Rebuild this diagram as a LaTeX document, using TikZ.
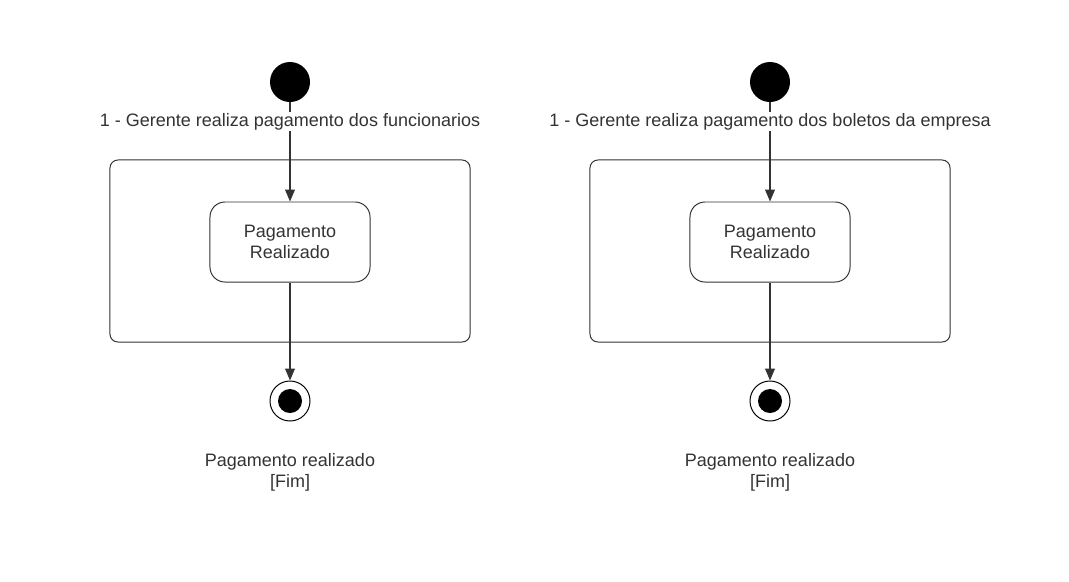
\documentclass[tikz,border=0pt]{standalone}
\usepackage{fontspec}
\setmainfont{Liberation Sans}
\usetikzlibrary{arrows.meta,positioning}
\definecolor{ink}{HTML}{333333}

\tikzset{
    flow/.style={draw=ink, line width=0.75pt, -{Triangle[length=8.5pt,width=7pt]}},
    frame/.style={draw=ink, line width=0.7pt, rounded corners=0.2cm, minimum width=9cm, minimum height=4.55cm},
    state/.style={draw=ink, line width=0.7pt, rounded corners=0.375cm, minimum width=4cm, minimum height=2cm, align=center, text=ink, font=\fontsize{12.8}{15}\selectfont},
    txt/.style={text=ink, align=center, font=\fontsize{12.8}{15}\selectfont}
}

\begin{document}
\begin{tikzpicture}[x=0.025cm,y=-0.025cm]
            \useasboundingbox (0,0) rectangle (1069,581);
            \foreach \i/\x/\what in {1/290/funcionarios, 2/770/boletos da empresa} {
                \node [frame] (box\i) at (\x,251) {};
                \node [state] (pay\i) at (\x,242) {Pagamento\\Realizado};
                \node [circle, fill=black, minimum size=1cm, inner sep=0pt] (start\i) at (\x,82) {};
                \node [circle, draw=black, line width=0.7pt, minimum size=1cm, inner sep=0pt] (end\i) at (\x,401) {};
                \fill (end\i.center) circle (0.3cm);
                \draw [flow] (start\i) -- (pay\i);
                \draw [flow] (pay\i) -- (end\i);
                \node [txt, fill=white, inner sep=1pt] (act\i) at (\x,121.5) {1 - Gerente realiza pagamento dos \what};
                \node [txt] (fim\i) at (\x,472) {Pagamento realizado\\{}[Fim]};
            }
        \end{tikzpicture}
\end{document}
